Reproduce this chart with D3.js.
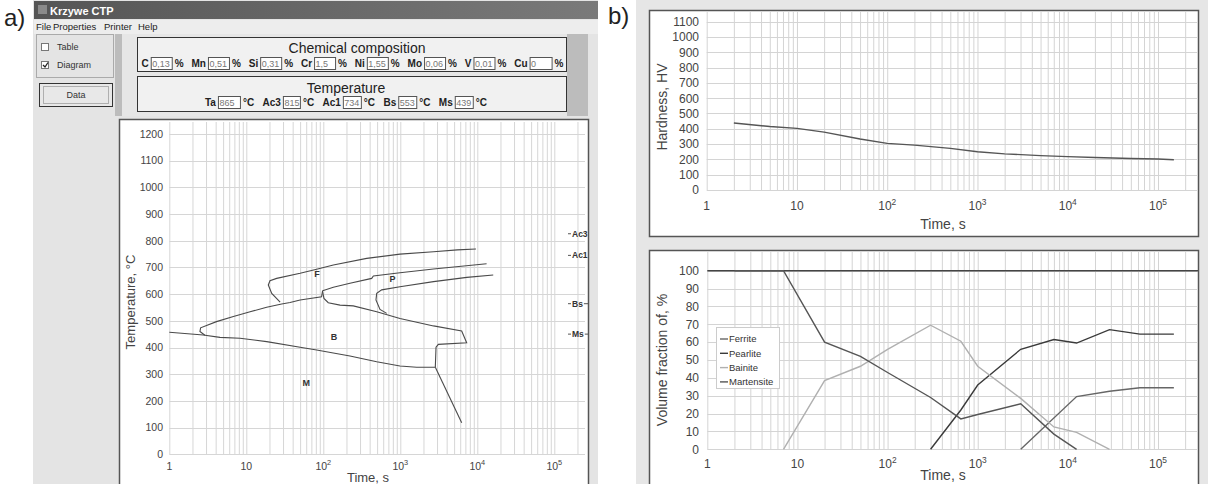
<!DOCTYPE html>
<html>
<head>
<meta charset="utf-8">
<script src="https://cdn.jsdelivr.net/npm/d3@7"></script>
<style>
  body { margin: 0; background: #fff; }
  svg { display: block; }
  text { font-family: "Liberation Sans", Arial, sans-serif; }
</style>
</head>
<body>
<svg id="fig" width="1208" height="484"></svg>
<script>
// ---- input data (window header) ----
const compLabels = ['C', 'Mn', 'Si', 'Cr', 'Ni', 'Mo', 'V', 'Cu'];
const compValues = ['0,13', '0,51', '0,31', '1,5', '1,55', '0,06', '0,01', '0'];
const tempLabels = ['Ta', 'Ac3', 'Ac1', 'Bs', 'Ms'];
const tempValues = [865, 815, 734, 553, 439];
const menuItems = ['File', 'Properties', 'Printer', 'Help'];

// ---- CCT diagram curves, [time s, temperature C] ----
const ferriteStart = [[27.5, 570], [21.4, 603], [19.3, 634], [20.3, 650], [24.8, 659], [50, 678], [82, 693],
  [135, 709], [366, 734], [990, 750], [2700, 759], [5500, 766], [9600, 769]];
const bainiteStart = [[2.9, 446], [2.5, 460], [2.55, 474], [4.1, 497], [6.8, 516], [11.2, 534], [18.4, 551],
  [28.8, 563], [37, 569], [50, 578], [95, 590], [98, 613]];
const pearliteStart = [[98, 613], [135, 626], [222, 641], [425, 659], [447, 668], [990, 680], [2700, 694], [13200, 714]];
const pearliteNose = [[666, 528], [545, 543], [483, 578], [494, 603], [573, 616], [990, 628], [2700, 647], [7300, 663], [16100, 672]];
const bainiteEnd = [[98, 609], [102, 584], [116, 568], [165, 559], [245, 556], [494, 534], [990, 509], [2700, 481],
  [6270, 462], [7280, 418], [3120, 412], [2910, 401], [2850, 326]];
const msLine = [[1, 457], [2.76, 447], [4.55, 438], [8.3, 435], [18.4, 422], [50, 401], [82, 391], [222, 368],
  [494, 347], [990, 331], [1630, 326], [2850, 326]];
const martTail = [[2850, 326], [6270, 118]];
const phaseLabels = ['F', 'P', 'B', 'M'];
const phasePos = [[83, 675], [795, 659], [138, 441], [60, 268]];
const critLabels = ['Ac3', 'Ac1', 'Bs', 'Ms'];
const critValues = [815, 734, 553, 439];

// ---- hardness ----
const hvTime = [2, 5, 10, 20, 50, 100, 200, 500, 1000, 2000, 5000, 10000, 20000, 50000, 100000, 150000];
const hvValue = [438, 415, 403, 378, 333, 305, 293, 272, 250, 236, 225, 218, 212, 206, 203, 198];

// ---- volume fraction ----
const phaseNames = ['Ferrite', 'Pearlite', 'Bainite', 'Martensite'];
const ferriteTime = [3000, 12500, 29000, 63000, 150000];
const ferriteFrac = [0, 29.5, 32.5, 34.5, 34.5];
const pearliteTime = [300, 650, 1000, 3000, 7000, 12500, 29000, 63000, 150000];
const pearliteFrac = [0, 22, 36, 56, 61.5, 59.5, 67, 64.5, 64.5];
const bainiteTime = [7, 20, 50, 100, 300, 650, 1000, 3000, 7000, 12500, 29000];
const bainiteFrac = [0, 38.5, 46.5, 56, 69.5, 60.5, 46.5, 28.5, 12.5, 9.5, 0];
const martTime = [2, 7, 20, 50, 100, 300, 650, 1000, 3000, 7000, 12500];
const martFrac = [100, 100, 60, 52, 43, 29, 17, 19.5, 25.5, 8.5, 0];
const phaseColors = ['#666', '#3a3a3a', '#b0b0b0', '#555'];

const svg = d3.select('#fig');

// ================= left: program window =================
svg.append('text').attr('x', 4).attr('y', 26).attr('font-size', 24).attr('fill', '#222').text('a)');

svg.append('rect').attr('x', 33).attr('y', 0).attr('width', 565).attr('height', 484).attr('fill', '#e4e4e4');

const grad = svg.append('defs').append('linearGradient').attr('id', 'titleGrad');
grad.append('stop').attr('offset', '0%').attr('stop-color', '#555');
grad.append('stop').attr('offset', '100%').attr('stop-color', '#7a7a7a');
svg.append('rect').attr('x', 34).attr('y', 1).attr('width', 564).attr('height', 18).attr('fill', 'url(#titleGrad)');
svg.append('rect').attr('x', 38).attr('y', 5).attr('width', 9).attr('height', 9).attr('fill', '#8a8a8a');
svg.append('text').attr('x', 50).attr('y', 15).attr('font-size', 11).attr('font-weight', 'bold')
  .attr('fill', '#fff').text('Krzywe CTP');

svg.append('rect').attr('x', 34).attr('y', 20).attr('width', 564).attr('height', 14).attr('fill', '#ededed');
const menuX = [36, 53, 104, 138];
menuItems.forEach((m, i) => {
  svg.append('text').attr('x', menuX[i]).attr('y', 30).attr('font-size', 9.5).attr('fill', '#222').text(m);
});

// sidebar
svg.append('rect').attr('x', 36.5).attr('y', 34.5).attr('width', 77).attr('height', 43)
  .attr('fill', 'none').attr('stroke', '#aaa');
[['Table', 43, false], ['Diagram', 61, true]].forEach(([t, y, on]) => {
  svg.append('rect').attr('x', 41.5).attr('y', y + 0.5).attr('width', 7).attr('height', 7)
    .attr('fill', '#fff').attr('stroke', '#777');
  if (on) svg.append('path').attr('d', `M43,${y + 4} L45,${y + 6} L48,${y + 1.5}`)
    .attr('fill', 'none').attr('stroke', '#222').attr('stroke-width', 1.3);
  svg.append('text').attr('x', 57).attr('y', y + 7).attr('font-size', 9).attr('fill', '#333').text(t);
});
svg.append('rect').attr('x', 39.5).attr('y', 83.5).attr('width', 73).attr('height', 23)
  .attr('fill', '#e8e8e8').attr('stroke', '#333');
svg.append('rect').attr('x', 43.5).attr('y', 86.5).attr('width', 65).attr('height', 17)
  .attr('fill', 'none').attr('stroke', '#777').attr('stroke-dasharray', '1,1');
svg.append('text').attr('x', 76).attr('y', 98).attr('text-anchor', 'middle').attr('font-size', 9)
  .attr('fill', '#333').text('Data');

// header panel
svg.append('rect').attr('x', 115).attr('y', 34).attr('width', 473).attr('height', 82).attr('fill', '#bcbcbc');
svg.append('rect').attr('x', 122).attr('y', 34).attr('width', 445).attr('height', 82).attr('fill', '#e6e6e6');
svg.append('rect').attr('x', 137.5).attr('y', 37.5).attr('width', 429).attr('height', 34)
  .attr('fill', '#f1f1f1').attr('stroke', '#333');
svg.append('rect').attr('x', 137.5).attr('y', 76.5).attr('width', 429).attr('height', 35)
  .attr('fill', '#f1f1f1').attr('stroke', '#333');
svg.append('text').attr('x', 357).attr('y', 53).attr('text-anchor', 'middle').attr('font-size', 14)
  .attr('fill', '#222').text('Chemical composition');
svg.append('text').attr('x', 346).attr('y', 92.5).attr('text-anchor', 'middle').attr('font-size', 14)
  .attr('fill', '#222').text('Temperature');

function fieldRow(labels, values, boxW, unit, x0, x1, y) {
  const g = svg.append('g');
  const lab = labels.map(l => g.append('text').attr('y', y).attr('font-size', 10)
    .attr('font-weight', 'bold').attr('fill', '#222').text(l));
  const un = labels.map(() => g.append('text').attr('y', y).attr('font-size', 10)
    .attr('font-weight', 'bold').attr('fill', '#222').text(unit));
  const lw = lab.map(t => t.node().getComputedTextLength());
  const uw = un.map(t => t.node().getComputedTextLength());
  const fixed = d3.sum(labels, (l, i) => lw[i] + 2 + boxW[i] + 3 + uw[i]);
  const gap = (x1 - x0 - fixed) / (labels.length - 1);
  let x = x0;
  labels.forEach((l, i) => {
    lab[i].attr('x', x);
    x += lw[i] + 2;
    g.append('rect').attr('x', x + 0.5).attr('y', y - 9.5).attr('width', boxW[i]).attr('height', 12)
      .attr('fill', '#fff').attr('stroke', '#555');
    g.append('text').attr('x', x + 1.5).attr('y', y).attr('font-size', 9).attr('fill', '#777').text(values[i]);
    x += boxW[i] + 3;
    un[i].attr('x', x);
    x += uw[i] + gap;
  });
}
fieldRow(compLabels, compValues, [21, 21, 21, 21, 21, 21, 21, 22], '%', 141.5, 563.5, 67);
fieldRow(tempLabels, tempValues, [22, 17, 18, 18, 18], '\u00b0C', 205, 487, 106);

// ---- generic log-time chart ----
function logChart(o) {
  const g = svg.append('g');
  const x = d3.scaleLog().domain([1, 1e5]).range(o.xr);
  const y = d3.scaleLinear().domain(o.yd).range(o.yr);
  const grid = [];
  for (let n = 0; n <= 5; n++) for (let k = 1; k <= 9; k++) {
    const v = k * Math.pow(10, n);
    if (x(v) <= o.right - 2) grid.push(v);
  }
  g.selectAll('.vg').data(grid).enter().append('line')
    .attr('x1', d => x(d) + 0.5).attr('x2', d => x(d) + 0.5)
    .attr('y1', o.top).attr('y2', y(0)).attr('stroke', o.grid).attr('stroke-width', 1);
  g.selectAll('.hg').data(o.yticks).enter().append('line')
    .attr('x1', x(1)).attr('x2', o.right).attr('y1', d => Math.round(y(d)) + 0.5)
    .attr('y2', d => Math.round(y(d)) + 0.5).attr('stroke', o.grid).attr('stroke-width', 1);
  g.selectAll('.yl').data(o.yticks).enter().append('text')
    .attr('x', o.ylx).attr('y', d => y(d)).attr('dy', '0.36em').attr('text-anchor', 'end')
    .attr('font-size', o.fs).attr('fill', '#444').text(d => d);
  const majors = [1, 10, 100, 1000, 10000, 100000];
  majors.forEach((v, i) => {
    const t = g.append('text').attr('x', x(v)).attr('y', o.xly).attr('text-anchor', 'middle')
      .attr('font-size', o.fs).attr('fill', '#444');
    if (i < 2) t.text(v);
    else {
      t.append('tspan').text('10');
      t.append('tspan').attr('dy', -5).attr('font-size', o.fs * 0.7).text(i);
    }
  });
  g.append('text').attr('x', o.tx).attr('y', o.ty).attr('text-anchor', 'middle')
    .attr('font-size', o.lfs).attr('fill', '#444').text('Time, s');
  g.append('text').attr('transform', `translate(${o.ylabx},${o.ylaby}) rotate(-90)`)
    .attr('text-anchor', 'middle').attr('font-size', o.lfs).attr('fill', '#444').text(o.ylab);
  return { g, x, y };
}

// ---- CCT diagram ----
svg.append('rect').attr('x', 119.5).attr('y', 119.5).attr('width', 469).attr('height', 370)
  .attr('fill', '#fff').attr('stroke', '#555').attr('stroke-width', 1.5);
const cct = logChart({
  xr: [169.3, 554.3], yd: [0, 1200], yr: [454.3, 134], top: 122, right: 585,
  yticks: d3.range(0, 1201, 100), grid: '#d6d6d6', ylx: 163, xly: 470, fs: 10.5, lfs: 13,
  tx: 368, ty: 482, ylabx: 135, ylaby: 302, ylab: 'Temperature, \u00b0C'
});
const cctLine = d3.line().x(d => cct.x(d[0])).y(d => cct.y(d[1]));
[ferriteStart, bainiteStart, pearliteStart, pearliteNose, bainiteEnd, msLine, martTail].forEach(c => {
  cct.g.append('path').attr('d', cctLine(c)).attr('fill', 'none').attr('stroke', '#4a4a4a').attr('stroke-width', 1.1);
});
phaseLabels.forEach((p, i) => {
  cct.g.append('text').attr('x', cct.x(phasePos[i][0])).attr('y', cct.y(phasePos[i][1])).attr('dy', '0.35em')
    .attr('text-anchor', 'middle').attr('font-size', 9).attr('font-weight', 'bold').attr('fill', '#333').text(p);
});
critLabels.forEach((c, i) => {
  const yy = cct.y(critValues[i]) - 3;
  cct.g.append('line').attr('x1', 568).attr('x2', 571).attr('y1', yy).attr('y2', yy).attr('stroke', '#555');
  const t = cct.g.append('text').attr('x', 572).attr('y', yy).attr('dy', '0.35em').attr('font-size', 8.5)
    .attr('font-weight', 'bold').attr('fill', '#333').text(c);
  if (c === 'Bs' || c === 'Ms') {
    const w = t.node().getComputedTextLength();
    cct.g.append('line').attr('x1', 572 + w + 1).attr('x2', 588).attr('y1', yy).attr('y2', yy).attr('stroke', '#555');
  }
});

// ================= right: b) =================
svg.append('text').attr('x', 608).attr('y', 24).attr('font-size', 24).attr('fill', '#222').text('b)');
svg.append('rect').attr('x', 636).attr('y', 0).attr('width', 572).attr('height', 484).attr('fill', '#e6e6e6');

svg.append('rect').attr('x', 649.5).attr('y', 10.5).attr('width', 549).attr('height', 226)
  .attr('fill', '#fff').attr('stroke', '#555').attr('stroke-width', 1.5);
const hv = logChart({
  xr: [706.7, 1158], yd: [0, 1100], yr: [190, 21.7], top: 11, right: 1198,
  yticks: d3.range(0, 1101, 100), grid: '#d4d4d4', ylx: 699, xly: 210, fs: 12, lfs: 14,
  tx: 943, ty: 229, ylabx: 667, ylaby: 107, ylab: 'Hardness, HV'
});
hv.g.append('path')
  .attr('d', d3.line().x((d, i) => hv.x(hvTime[i])).y(d => hv.y(d))(hvValue))
  .attr('fill', 'none').attr('stroke', '#555').attr('stroke-width', 1.4);

svg.append('rect').attr('x', 649.5).attr('y', 250.5).attr('width', 549).attr('height', 240)
  .attr('fill', '#fff').attr('stroke', '#555').attr('stroke-width', 1.5);
const vf = logChart({
  xr: [707.3, 1158], yd: [0, 100], yr: [449.3, 270.7], top: 252, right: 1198,
  yticks: d3.range(0, 101, 10), grid: '#d4d4d4', ylx: 699, xly: 468, fs: 12, lfs: 14,
  tx: 943, ty: 480, ylabx: 667, ylaby: 360, ylab: 'Volume fraction of, %'
});
vf.g.append('line').attr('x1', vf.x(1)).attr('x2', 1198).attr('y1', vf.y(100)).attr('y2', vf.y(100))
  .attr('stroke', '#444').attr('stroke-width', 1.5);
const vfSeries = [[ferriteTime, ferriteFrac], [pearliteTime, pearliteFrac], [bainiteTime, bainiteFrac], [martTime, martFrac]];
vfSeries.forEach(([ts, vs], k) => {
  vf.g.append('path')
    .attr('d', d3.line().x((d, i) => vf.x(ts[i])).y(d => vf.y(d))(vs))
    .attr('fill', 'none').attr('stroke', phaseColors[k]).attr('stroke-width', 1.4);
});
const leg = vf.g.append('g').attr('transform', 'translate(716,327)');
leg.append('rect').attr('x', 0.5).attr('y', 0.5).attr('width', 63).attr('height', 61)
  .attr('fill', '#fff').attr('stroke', '#ccc');
phaseNames.forEach((n, i) => {
  const yy = 12 + i * 14.3;
  leg.append('line').attr('x1', 4).attr('x2', 12).attr('y1', yy).attr('y2', yy)
    .attr('stroke', phaseColors[i]).attr('stroke-width', 1.4);
  leg.append('text').attr('x', 13).attr('y', yy).attr('dy', '0.35em').attr('font-size', 9.5)
    .attr('fill', '#333').text(n);
});
</script>
</body>
</html>
